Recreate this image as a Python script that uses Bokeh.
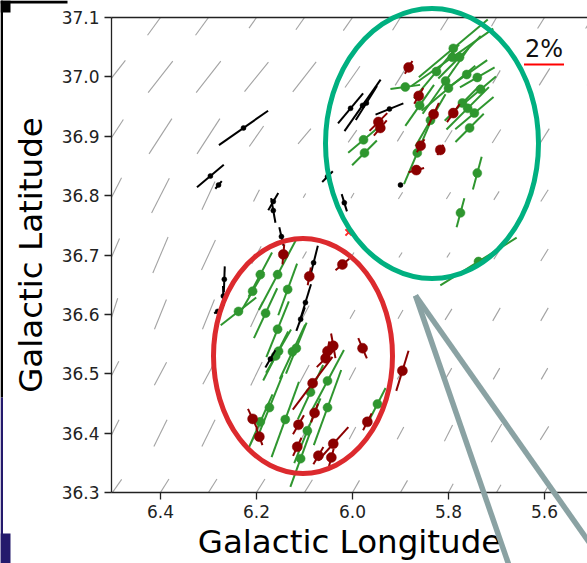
import numpy as np
from bokeh.plotting import figure
from bokeh.layouts import column
from bokeh.models import (FixedTicker, LinearAxis, Range1d, Label, ColumnDataSource)
from bokeh.embed import file_html
from bokeh.resources import INLINE

# ---------------- data ----------------
# background field orientation grid (grey segments)
bg_lon = [6.5, 6.4, 6.3, 6.2, 6.1, 6.0, 5.9, 5.8, 5.7, 5.6, 5.5]
bg_lat = [37.1, 37.0, 36.9, 36.8, 36.7, 36.6, 36.5, 36.4, 36.3]
bg_pol = [  # percent (1% = 20 px)
    [1.8, 2.2, 2.2, 1.3, 1.5, 1.6, 1.5, 1.5, 1.0, 1.3, 1.3],
    [2.1, 2.0, 2.0, 1.9, 1.9, 1.3, 1.0, 1.0, 0.75, 1.0, 1.0],
    [2.0, 2.1, 2.1, 1.25, 1.0, 0.75, 0.6, 0.7, 0.8, 0.9, 0.9],
    [2.0, 1.95, 1.55, 0.65, 0.25, 0.3, 0.4, 0.4, 0.5, 0.7, 0.7],
    [1.8, 1.95, 1.65, 1.0, 0.4, 0.3, 0.3, 0.3, 0.5, 0.7, 0.7],
    [1.7, 1.6, 1.6, 1.4, 1.0, 0.5, 0.5, 0.65, 0.75, 0.75, 0.75],
    [1.4, 1.3, 1.2, 1.3, 1.0, 0.7, 0.65, 0.65, 0.65, 0.65, 0.65],
    [1.5, 1.5, 1.5, 1.3, 1.0, 0.7, 0.7, 0.9, 1.05, 0.8, 0.8],
    [1.6, 1.6, 1.6, 1.6, 1.5, 1.4, 1.4, 1.0, 0.9, 0.9, 0.9],
]
bg_ang = [  # degrees, counter-clockwise from horizontal
    [55, 54, 54, 55, 55, 55, 58, 58, 60, 58, 58],
    [52, 52, 52, 51, 52, 55, 58, 58, 60, 58, 58],
    [57, 57, 57, 55, 50, 55, 58, 58, 58, 58, 58],
    [63, 63, 65, 63, 60, 60, 58, 58, 58, 58, 58],
    [67, 67, 65, 62, 60, 60, 58, 58, 58, 58, 58],
    [72, 68, 68, 65, 62, 60, 60, 58, 60, 60, 60],
    [63, 62, 62, 64, 62, 62, 60, 60, 60, 60, 60],
    [64, 64, 64, 63, 62, 62, 62, 63, 60, 58, 58],
    [55, 58, 58, 58, 58, 60, 60, 62, 60, 60, 60],
]

# green stars
green_lon = [5.790, 5.792, 5.777, 5.825, 5.762, 5.740, 5.806, 5.800, 5.890, 5.733,
             5.860, 5.771, 5.760, 5.746, 5.756, 5.977, 5.975, 5.865, 5.740, 5.775,
             5.7375, 5.8375,
             6.192, 6.156, 6.208, 6.135, 6.2375, 6.181, 6.156, 6.160, 6.154, 6.125,
             6.117, 6.052, 6.0875, 6.173, 6.192, 6.052, 6.094, 5.948, 6.140, 6.108]
green_lat = [37.048, 37.033, 37.033, 37.009, 37.004, 36.999, 36.993, 36.981, 36.983, 36.979,
             36.952, 36.956, 36.947, 36.939, 36.914, 36.894, 36.872, 36.872, 36.838, 36.771,
             36.689, 36.927,
             36.667, 36.667, 36.639, 36.642, 36.605, 36.602, 36.575, 36.530, 36.538, 36.537,
             36.543, 36.488, 36.469, 36.443, 36.419, 36.443, 36.404, 36.449, 36.423, 36.357]
green_pol = [4.5, 5.0, 3.0, 3.5, 2.5, 2.0, 4.0, 3.5, 1.5, 2.0,
             2.5, 2.5, 3.0, 2.5, 2.0, 2.0, 1.75, 3.4, 1.7, 1.5,
             4.5, 3.0,
             2.5, 4.0, 2.25, 2.75, 2.25, 2.75, 3.0, 2.75, 2.5, 3.0,
             2.75, 3.5, 3.0, 3.5, 3.0, 4.0, 3.5, 1.8, 4.0, 3.0]
green_ang = [40, 35, 45, 50, 35, 30, 55, 40, 8, 40,
             55, 45, 45, 40, 45, 40, 45, 67, 75, 75,
             32, 60,
             62, 62, 60, 70, 38, 65, 68, 63, 60, 65,
             68, 62, 65, 68, 66, 70, 68, 63, 70, 70]

# dark red stars
red_lon = [5.883, 5.862, 5.946, 5.942, 5.831, 5.790, 5.858, 5.817, 5.867,
           6.144, 6.090, 6.021, 6.040, 6.052, 6.056, 5.979, 6.083, 6.079, 6.1125,
           6.208, 6.194, 6.115, 6.071, 6.040, 6.044, 5.969, 5.896]
red_lat = [37.016, 36.968, 36.924, 36.914, 36.937, 36.939, 36.884, 36.877, 36.843,
           36.701, 36.664, 36.684, 36.547, 36.538, 36.526, 36.543, 36.484, 36.434, 36.414,
           36.424, 36.394, 36.377, 36.362, 36.382, 36.359, 36.419, 36.505]
red_pol = [0.75, 0.9, 1.25, 1.0, 1.25, 1.1, 0.75, 0.6, 0.8,
           1.0, 0.9, 0.9, 1.25, 1.0, 1.25, 1.1, 3.3, 1.0, 1.1,
           1.1, 0.9, 1.0, 1.0, 2.25, 0.9, 0.95, 2.1]
red_ang = [60, 60, 45, 50, 65, 55, 60, 60, 15,
           85, 80, 40, 100, 80, 45, 113, 53, 70, 60,
           115, 110, 65, 60, 48, 75, 63, 73]

# black stars
black_lon = [6.004, 5.979, 5.971, 5.923, 5.900, 6.052, 6.017, 6.227, 6.296, 6.279,
             6.165, 6.165, 6.148, 6.081, 6.098, 6.108, 6.171, 6.267, 6.269, 6.281]
black_lat = [36.947, 36.952, 36.956, 36.946, 36.818, 36.832, 36.788, 36.914, 36.833, 36.818,
             36.790, 36.775, 36.731, 36.687, 36.620, 36.592, 36.525, 36.659, 36.631, 36.605]
black_pol = [1.95, 3.15, 2.0, 1.5, 0.2, 0.75, 0.9, 3.0, 1.75, 0.5,
             1.0, 1.25, 0.95, 1.75, 1.9, 1.25, 1.0, 1.3, 1.0, 0.4]
black_ang = [50, 55, 58, 22, 60, 45, 107, 35, 40, 50,
             60, 100, 103, 76, 73, 70, 60, 88, 92, 30]

# single rejected point
x_lon = [6.008]
x_lat = [36.738]

x_ticks = [6.4, 6.2, 6.0, 5.8, 5.6]
x_labels = ["6.4", "6.2", "6.0", "5.8", "5.6"]
y_ticks = [36.3, 36.4, 36.5, 36.6, 36.7, 36.8, 36.9, 37.0, 37.1]
y_labels = ["36.3", "36.4", "36.5", "36.6", "36.7", "36.8", "36.9", "37.0", "37.1"]

scale_pct = 2
px_per_pct = 20

# ---------------- main figure ----------------
FONT = "DejaVu Sans"
W, H, LEFT = 587, 563, 111
p = figure(width=W, height=H, x_range=Range1d(6.502, 5.5104), y_range=Range1d(36.3, 37.1),
           output_backend="svg", toolbar_location=None,
           min_border_left=LEFT, min_border_right=0, min_border_top=17, min_border_bottom=69)
p.grid.visible = False
p.outline_line_color = None
p.background_fill_color = "white"
p.border_fill_color = "white"

for ax, ticks, labels in ((p.xaxis[0], x_ticks, x_labels), (p.yaxis[0], y_ticks, y_labels)):
    ax.ticker = FixedTicker(ticks=ticks)
    ax.major_label_overrides = {t: l for t, l in zip(ticks, labels)}
    ax.major_label_text_font = FONT
    ax.major_label_text_font_size = "17px"
    ax.major_label_text_color = "#222222"
    ax.major_tick_in = 0
    ax.major_tick_out = 7
    ax.major_tick_line_width = 1.3
    ax.major_tick_line_color = "#222222"
    ax.minor_tick_line_color = None
    ax.axis_line_width = 1.3
    ax.axis_line_color = "#222222"
    ax.axis_label_text_font = FONT
    ax.axis_label_text_font_size = "32.5px"
    ax.axis_label_text_font_style = "normal"
    ax.axis_label_text_color = "black"
p.xaxis.axis_label = "Galactic Longitude"
p.yaxis.axis_label = "Galactic Latitude"
p.xaxis.major_label_standoff = 5
p.xaxis.axis_label_standoff = 2
p.yaxis.major_label_standoff = 5
p.yaxis.axis_label_standoff = 9

top_axis = LinearAxis(ticker=FixedTicker(ticks=[]), major_label_text_font_size="0px",
                      major_tick_line_color=None, minor_tick_line_color=None,
                      axis_line_width=1.3, axis_line_color="#222222")
p.add_layout(top_axis, "above")

# background grey segments
bx, by, bs, ba = [], [], [], []
for i, la in enumerate(bg_lat):
    for j, lo in enumerate(bg_lon):
        bx.append(lo); by.append(la)
        bs.append(bg_pol[i][j] * px_per_pct); ba.append(bg_ang[i][j])
p.scatter(bx, by, marker="dash", size=bs, angle=ba, angle_units="deg",
          line_color="#a3a3a3", line_width=1.1)

def vectors(lon, lat, pol, ang, color, dot, lw):
    src = ColumnDataSource(dict(x=lon, y=lat, s=[v * px_per_pct for v in pol], a=ang))
    p.scatter("x", "y", source=src, marker="dash", size="s", angle="a", angle_units="deg",
              line_color=color, line_width=lw)
    p.scatter("x", "y", source=src, marker="circle", size=dot, fill_color=color,
              line_color=color, line_width=0.5)

vectors(green_lon, green_lat, green_pol, green_ang, "#2f962f", 9, 2)
vectors(black_lon, black_lat, black_pol, black_ang, "black", 5, 2)
vectors(red_lon, red_lat, red_pol, red_ang, "#8b0000", 10, 2)
p.scatter(x_lon, x_lat, marker="x", size=9, line_color="#ff2a2a", line_width=2)

# 2% scale bar
p.scatter([5.601], [37.021], marker="dash", size=scale_pct * px_per_pct,
          line_color="red", line_width=2)
p.add_layout(Label(x=5.601, y=37.0229, text=f"{scale_pct}%", text_align="center",
                   text_baseline="bottom", text_font=FONT, text_font_size="24px",
                   text_color="#111111"))

# ---------------- slide overlays (transparent, page-pixel coordinates) ----------------
def overlay(x0, x1, shift):
    o = figure(width=W, height=H, x_range=Range1d(x0, x1), y_range=Range1d(H, 0),
               output_backend="svg", toolbar_location=None, min_border=0,
               x_axis_location=None, y_axis_location=None)
    o.grid.visible = False
    o.outline_line_color = None
    o.background_fill_alpha = 0
    o.border_fill_alpha = 0
    o.margin = (-H, 0, 0, shift)
    return o

# frame aligned with the main frame: page x from LEFT to W
q = overlay(LEFT, W, 0)
q.ellipse([431.5], [143], width=213, height=270, fill_color=None,
          line_color="#00b080", line_width=5)
q.ellipse([302.5], [355.5], width=179, height=235, fill_color=None,
          line_color="#dc2a2e", line_width=5)
q.segment([415, 415], [295, 295], [512, 612], [575, 575], line_color="#8aa2a3", line_width=5.5)

# shifted left so its frame starts at page x = 0 (slide edge strips)
r = overlay(0, W - LEFT, -LEFT)
r.quad(left=[0, 0, 0, 0, 0], right=[2.5, 10, 67, 2.5, 10], top=[0, 0, 0, 397, 533],
       bottom=[397, 12, 3, 563, 563],
       fill_color=["black", "black", "black", "#241a6c", "#241a6c"], line_color=None)

layout = column(p, q, r, spacing=0)
open("out.html", "w").write(file_html(layout, INLINE))
